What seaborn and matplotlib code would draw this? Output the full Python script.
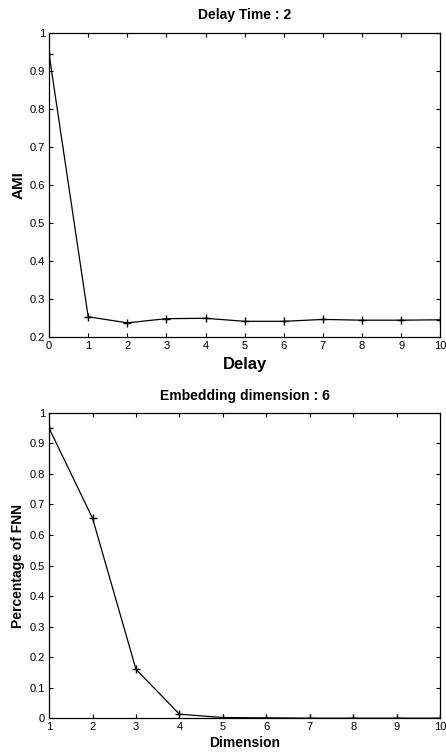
import matplotlib
matplotlib.use("Agg")
import matplotlib.pyplot as plt
import seaborn as sns
import pandas as pd

delay = [0, 1, 2, 3, 4, 5, 6, 7, 8, 9, 10]
ami = [0.945, 0.253, 0.237, 0.248, 0.249, 0.241, 0.241, 0.246, 0.244, 0.244, 0.245]
dimension = [1, 2, 3, 4, 5, 6, 7, 8, 9, 10]
fnn = [0.95, 0.655, 0.16, 0.013, 0.002, 0.001, 0.0, 0.0, 0.0, 0.0]

sns.set_theme(style="white")
plt.rcParams['font.family'] = ['Liberation Sans', 'DejaVu Sans']
plt.rcParams['text.color'] = 'black'
plt.rcParams['axes.labelcolor'] = 'black'

fig = plt.figure(figsize=(4.46, 7.52), dpi=100)
ax1 = fig.add_axes([0.110, 0.552, 0.877, 0.404])
ax2 = fig.add_axes([0.110, 0.045, 0.877, 0.406])

df1 = pd.DataFrame({"Delay": delay, "AMI": ami})
df2 = pd.DataFrame({"Dimension": dimension, "FNN": fnn})

sns.lineplot(data=df1, x="Delay", y="AMI", ax=ax1, color="black", lw=0.9,
             marker="+", markersize=6, markeredgecolor="black", markeredgewidth=1.0)
sns.lineplot(data=df2, x="Dimension", y="FNN", ax=ax2, color="black", lw=0.9,
             marker="+", markersize=6, markeredgecolor="black", markeredgewidth=1.0)

ax1.set_xlim(0, 10)
ax1.set_ylim(0.2, 1)
ax1.set_xticks(range(0, 11))
ax1.set_yticks([0.2, 0.3, 0.4, 0.5, 0.6, 0.7, 0.8, 0.9, 1])
ax1.set_yticklabels(["0.2", "0.3", "0.4", "0.5", "0.6", "0.7", "0.8", "0.9", "1"])
ax1.set_title("Delay Time : 2", fontsize=10, fontweight="bold", pad=10)
ax1.set_xlabel("Delay", fontsize=12, fontweight="bold", labelpad=4)
ax1.set_ylabel("AMI", fontsize=11, fontweight="bold", labelpad=3)

ax2.set_xlim(1, 10)
ax2.set_ylim(0, 1)
ax2.set_xticks(range(1, 11))
ax2.set_yticks([0, 0.1, 0.2, 0.3, 0.4, 0.5, 0.6, 0.7, 0.8, 0.9, 1])
ax2.set_yticklabels(["0", "0.1", "0.2", "0.3", "0.4", "0.5", "0.6", "0.7", "0.8", "0.9", "1"])
ax2.set_title("Embedding dimension : 6", fontsize=10, fontweight="bold", pad=9)
ax2.set_xlabel("Dimension", fontsize=10, fontweight="bold", labelpad=3)
ax2.set_ylabel("Percentage of FNN", fontsize=10, fontweight="bold", labelpad=3)

for ax in (ax1, ax2):
    ax.tick_params(direction="in", length=3, width=0.8, top=True, right=True,
                   bottom=True, left=True, labelsize=8, pad=3, colors="black")
    for s in ax.spines.values():
        s.set_color("black")
        s.set_linewidth(0.9)

fig.savefig("out.png", dpi=100)
